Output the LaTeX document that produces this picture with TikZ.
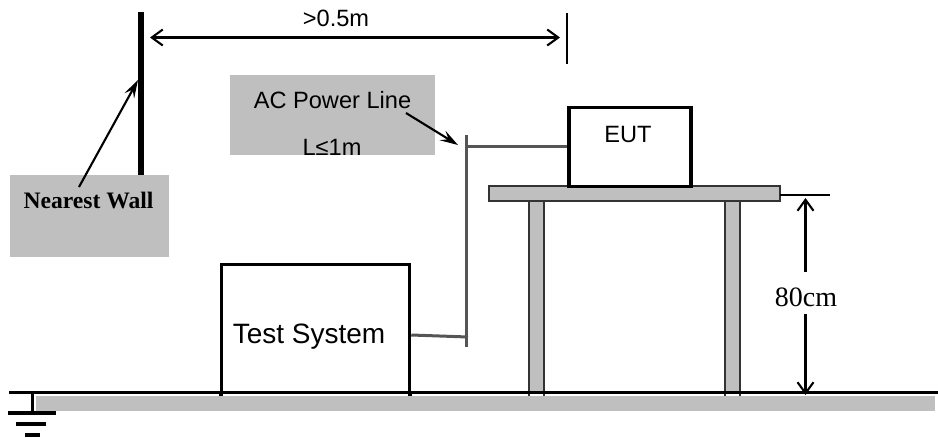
\documentclass[tikz,border=0pt]{standalone}
\usepackage{fontspec}
\setmainfont{Liberation Sans}
\newfontfamily\timesface{Liberation Serif}
\usetikzlibrary{arrows.meta}
\definecolor{panelgray}{HTML}{BFBFBF}
\definecolor{cablegray}{HTML}{555555}
\tikzset{
  panel/.style={fill=panelgray, draw=none, inner sep=0pt},
  unit/.style={draw=black, line width=3.5pt, fill=white, inner sep=0pt},
  board/.style={fill=panelgray, draw=black!80, line width=1.6pt},
  cable/.style={draw=cablegray, line width=3pt},
  label/.style={inner sep=0pt, anchor=base},
  dim/.style={line width=2.1pt, {Straight Barb[length=11pt,width=16pt]}-{Straight Barb[length=11pt,width=16pt]}},
  dimup/.style={line width=2.1pt, -{Straight Barb[length=11pt,width=16pt]}},
  pointer/.style={line width=2.1pt, -{Stealth[length=18pt,width=11pt,inset=7pt]}}
}
\begin{document}
\begin{tikzpicture}[x=1pt, y=-1pt]

   \useasboundingbox (0, 0) rectangle (938, 437);

   \def\yfloor{392}; % floor line
   \def\ytick{395.5}; % foot of the legs
   \def\ytable{195}; % table height mark
   \def\ydim{37.5}; % wall distance arrow
   \def\xdim{805.5};
   \def\xcable{466};

   % floor and ground
   \fill[panelgray] (36, 396) rectangle (935, 411);

   % table
   \fill[panelgray] (529, 201) rectangle (544, \yfloor);
   \fill[panelgray] (725, 201) rectangle (740, \yfloor);
   \foreach \xleg in {529, 544, 725, 740} {
      \draw[line width=1.6pt, black!80] (\xleg, 201) -- (\xleg, \ytick);
   }
   \draw[board] (489, 186) rectangle (780, 201);

   \draw[line width=3.2pt] (221, \yfloor) -- (221, \ytick);
   \draw[line width=3.2pt] (410, \yfloor) -- (410, \ytick);
   \draw[line width=3pt] (9, \yfloor) -- (938, \yfloor);
   \draw[line width=3pt] (32, \yfloor) -- (32, 413);
   \draw[line width=3.2pt] (8, 413) -- (56, 413);
   \draw[line width=3.2pt] (16, 424) -- (46, 424);
   \draw[line width=3.2pt] (25, 435) -- (40, 435);

   % wall
   \fill (138, 12) rectangle (143.5, 175);
   \node[panel, minimum width=159pt, minimum height=82pt] (wall) at (89.5, 216) {};
   \node[label, font=\timesface\bfseries\fontsize{23.6}{24}\selectfont] (walltext) at (88.5, 208) {Nearest Wall};
   \coordinate (walltop) at (138, 80);
   \coordinate (wallfoot) at (79, 187);
   \draw[pointer] (wallfoot) -- (walltop);

   % distance to wall
   \coordinate (dimleft) at (150, \ydim);
   \coordinate (dimright) at (560, \ydim);
   \coordinate (ticktop) at (567, 13);
   \coordinate (tickbottom) at (567, 64);
   \draw[dim] (dimleft) -- (dimright);
   \draw[line width=1.3pt] (ticktop) -- (tickbottom);
   \node[label, font=\fontsize{23.6}{24}\selectfont] (dist) at (336, 26) {>0.5m};

   % AC line label
   \node[panel, minimum width=205pt, minimum height=80pt] (acbox) at (332.5, 115) {};
   \node[label, font=\fontsize{23.6}{24}\selectfont] (acline) at (332.5, 108) {AC Power Line};
   \node[label, font=\fontsize{23.6}{24}\selectfont] (aclen) at (332, 155) {L≤1m};

   % units
   \node[unit, minimum width=188pt, minimum height=128pt] (system) at (315.5, 328.5) {};
   \node[label, font=\fontsize{28}{28}\selectfont] (systemtext) at (309, 343) {Test System};
   \node[unit, minimum width=122pt, minimum height=79pt] (eut) at (630, 147) {};
   \node[label, font=\fontsize{23.6}{24}\selectfont] (euttext) at (628, 142) {EUT};

   % AC cable
   \coordinate (cabletop) at (\xcable, 135);
   \coordinate (cablebottom) at (\xcable, 347);
   \coordinate (cableeut) at (\xcable, 146.7);
   \coordinate (cablesys) at (468, 337);
   \draw[cable] (cabletop) -- (cablebottom);
   \draw[cable] (cableeut) -- (eut.west |- cableeut);
   \draw[cable] (system.east |- 0, 335) -- (cablesys);

   \coordinate (labelfoot) at (406, 113);
   \coordinate (cablemark) at (458, 145);
   \draw[pointer] (labelfoot) -- (cablemark);

   % table height
   \node[label, font=\timesface\fontsize{28}{28}\selectfont] (height) at (806, 306.5) {80cm};
   \coordinate (tableedge) at (780, \ytable);
   \coordinate (tablemark) at (830, \ytable);
   \coordinate (heighttop) at (\xdim, 198);
   \coordinate (heightbottom) at (\xdim, 395);
   \coordinate (heightgapa) at (\xdim, 272);
   \coordinate (heightgapb) at (\xdim, 314);
   \draw[line width=1.3pt] (tableedge) -- (tablemark);
   \draw[dimup] (heightgapa) -- (heighttop);
   \draw[dimup] (heightgapb) -- (heightbottom);

  \end{tikzpicture}
\end{document}
